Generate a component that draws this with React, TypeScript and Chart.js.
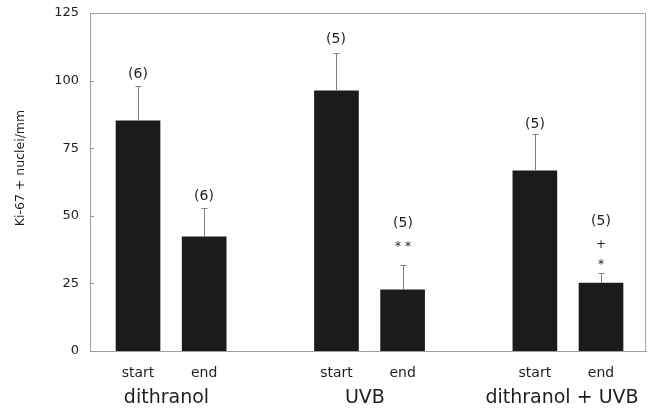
import React, { useEffect, useRef } from "react";
import { Chart, registerables } from "chart.js";

Chart.register(...registerables);

// ---- data ----
const categories = ["start", "end", "start", "end", "start", "end"];
const xPositions = [0, 1, 3, 4, 6, 7];
const groups = ["dithranol", "UVB", "dithranol + UVB"];
const groupLabelX = [0.43, 3.43, 6.41];
const means = [85.1, 42.2, 96.2, 22.6, 66.6, 25.1];
const upperErr = [98.0, 52.9, 110.2, 31.8, 80.3, 28.8];
const nLabels = ["(6)", "(6)", "(5)", "(5)", "(5)", "(5)"];
// significance marks, listed bottom-up above the error bar
const sigMarks: string[][] = [[], [], [], ["* *"], [], ["*", "+"]];
const yTickValues = [0, 25, 50, 75, 100, 125];
const yTitle = "Ki-67 + nuclei/mm";

// ---- style ----
const FONT = "'DejaVu Sans', Verdana, sans-serif";
const TEXT = "#1e1e1e";
const annotationLift = [0, 0, 2, 10, -2, 0];

const decorPlugin = {
  id: "decor",
  afterDatasetsDraw(chart: any) {
    const ctx = chart.ctx;
    const xs = chart.scales.x;
    const ys = chart.scales.y;
    const area = chart.chartArea;
    ctx.save();
    // frame (top & right)
    ctx.strokeStyle = "#a8a8a8";
    ctx.lineWidth = 1;
    ctx.beginPath();
    ctx.moveTo(area.left, Math.round(area.top) + 0.5);
    ctx.lineTo(area.right, Math.round(area.top) + 0.5);
    ctx.moveTo(Math.round(area.right) - 0.5, area.top);
    ctx.lineTo(Math.round(area.right) - 0.5, area.bottom);
    ctx.stroke();
    // inner y ticks
    ctx.strokeStyle = "#999";
    ctx.beginPath();
    yTickValues.forEach((v) => {
      const y = Math.round(ys.getPixelForValue(v)) + 0.5;
      ctx.moveTo(area.left, y);
      ctx.lineTo(area.left + 4, y);
    });
    ctx.stroke();
    // error bars and annotations
    means.forEach((m, i) => {
      const x = Math.round(xs.getPixelForValue(xPositions[i])) + 0.5;
      const yb = ys.getPixelForValue(m);
      const yt = Math.round(ys.getPixelForValue(upperErr[i])) + 0.5;
      ctx.strokeStyle = "#808080";
      ctx.lineWidth = 1;
      ctx.beginPath();
      ctx.moveTo(x, yb);
      ctx.lineTo(x, yt);
      ctx.moveTo(x - 3, yt);
      ctx.lineTo(x + 3, yt);
      ctx.stroke();
      const rows = [...sigMarks[i], nLabels[i]];
      ctx.fillStyle = TEXT;
      ctx.textAlign = "center";
      ctx.textBaseline = "middle";
      rows.forEach((t, r) => {
        const y = yt - 12 - r * 20 - annotationLift[i];
        const isMark = r < sigMarks[i].length;
        ctx.font = isMark ? `12px ${FONT}` : `14px ${FONT}`;
        ctx.fillText(t, x - 0.5, isMark ? y + 3 : y);
      });
    });
    // group labels
    ctx.fillStyle = TEXT;
    ctx.font = `19px ${FONT}`;
    ctx.textAlign = "center";
    ctx.textBaseline = "alphabetic";
    groups.forEach((g, i) => {
      ctx.fillText(g, xs.getPixelForValue(groupLabelX[i]), 403);
    });
    // y axis title
    ctx.font = `12.5px ${FONT}`;
    ctx.fillStyle = TEXT;
    ctx.textBaseline = "middle";
    ctx.translate(21, 168);
    ctx.rotate(-Math.PI / 2);
    ctx.fillText(yTitle, 0, 0);
    ctx.restore();
  },
};

export default function App() {
  const ref = useRef<HTMLCanvasElement | null>(null);
  useEffect(() => {
    if (!ref.current) return;
    const chart = new Chart(ref.current, {
      type: "bar",
      data: {
        datasets: [
          {
            data: xPositions.map((x, i) => ({ x, y: means[i] })),
            backgroundColor: "#1b1b1b",
            borderWidth: 0,
            barThickness: 44,
          },
        ],
      },
      options: {
        animation: false,
        responsive: false,
        devicePixelRatio: 1,
        layout: { padding: { top: 13, right: 7, left: 0, bottom: 0 } },
        plugins: { legend: { display: false }, tooltip: { enabled: false } },
        scales: {
          x: {
            type: "linear",
            offset: false,
            min: -0.726,
            max: 7.68,
            grid: { display: false, drawTicks: false },
            border: { display: true, color: "#9aa0a6", width: 1 },
            afterBuildTicks: (s: any) => {
              s.ticks = xPositions.map((v) => ({ value: v }));
            },
            afterFit: (s: any) => {
              s.height = 61;
              s.paddingLeft = 0;
              s.paddingRight = 0;
            },
            ticks: {
              autoSkip: false,
              maxRotation: 0,
              padding: 14,
              color: TEXT,
              font: { family: FONT, size: 14 },
              callback: (v: any) => {
                const idx = xPositions.indexOf(Number(v));
                return idx >= 0 ? categories[idx] : "";
              },
            },
          },
          y: {
            min: 0,
            max: 125,
            grid: { display: false, drawTicks: false },
            border: { display: true, color: "#a0a0a0", width: 1 },
            afterFit: (s: any) => {
              s.width = 90;
              s.paddingTop = 0;
              s.paddingBottom = 0;
            },
            ticks: {
              stepSize: 25,
              padding: 11,
              color: TEXT,
              font: { family: FONT, size: 13 },
            },
          },
        },
      },
      plugins: [decorPlugin],
    } as any);
    return () => chart.destroy();
  }, []);
  return (
    <div style={{ position: "fixed", left: 0, top: 0, width: 653, height: 412, background: "#fff" }}>
      <canvas ref={ref} width={653} height={412} style={{ display: "block" }} />
    </div>
  );
}
